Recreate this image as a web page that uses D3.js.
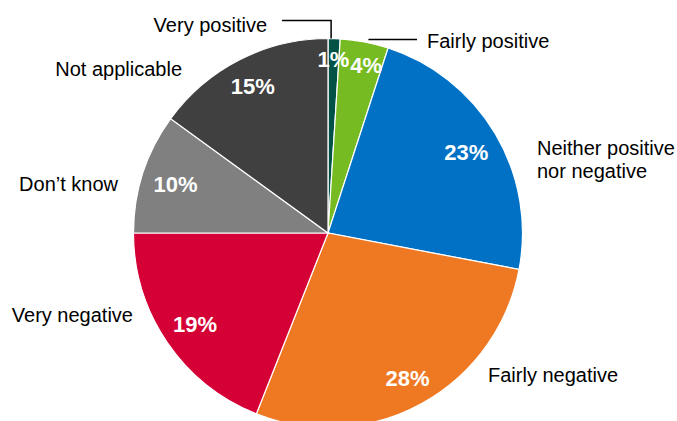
<!DOCTYPE html>
<html>
<head>
<meta charset="utf-8">
<script src="https://cdn.jsdelivr.net/npm/d3@7"></script>
<style>
  body { margin: 0; background: #fff; }
  svg { display: block; font-family: "Liberation Sans", Arial, sans-serif; }
</style>
</head>
<body>
<svg></svg>
<script>
// ---- data ----
const categories = ['Very positive', 'Fairly positive', 'Neither positive nor negative',
  'Fairly negative', 'Very negative', "Don\u2019t know", 'Not applicable'];
const shares = [1, 4, 23, 28, 19, 10, 15];
const colours = ['#005246', '#77bb22', '#0071c5', '#ef7822', '#d50036', '#808080', '#404040'];

// label text lines (the long one wraps)
const labelLines = [['Very positive'], ['Fairly positive'], ['Neither positive', 'nor negative'],
  ['Fairly negative'], ['Very negative'], ["Don\u2019t know"], ['Not applicable']];

// where Excel put the category labels (anchor x, first baseline y)
const labelSpots = [
  {x: 267, y: 32, anchor: 'end', leader: 'elbow'},
  {x: 427, y: 48, anchor: 'start', leader: 'flat'},
  {x: 537, y: 155, anchor: 'start'},
  {x: 488, y: 382, anchor: 'start'},
  {x: 133, y: 322, anchor: 'end'},
  {x: 118, y: 191, anchor: 'end'},
  {x: 182, y: 76, anchor: 'end'}
];

const size = {w: 677, h: 421};
const centre = {x: 328, y: 233};
const radius = 194.5;
const pctRadius = 184;   // outer corner of % labels touches this circle

const svg = d3.select('svg')
  .attr('width', size.w)
  .attr('height', size.h);

const rows = categories.map((c, i) => ({name: c, value: shares[i], colour: colours[i], i: i}));

const pie = d3.pie().value(d => d.value).sort(null);
const arc = d3.arc().innerRadius(0).outerRadius(radius);
const arcs = pie(rows);

const g = svg.append('g').attr('transform', `translate(${centre.x},${centre.y})`);

// slices
g.selectAll('path')
  .data(arcs)
  .join('path')
  .attr('d', arc)
  .attr('fill', d => d.data.colour)
  .attr('stroke', '#fff')
  .attr('stroke-width', 1.2);

// percentage labels, pushed out until the box corner meets pctRadius
const pctG = g.append('g');
const pctFont = 22;
let prevRight = -Infinity;
arcs.forEach(d => {
  const t = pctG.append('text')
    .attr('text-anchor', 'middle')
    .attr('font-size', pctFont)
    .attr('font-weight', 'bold')
    .attr('fill', '#fff')
    .text(d.data.value + '%');
  const w = t.node().getComputedTextLength();
  const h = pctFont * 0.78;
  const mid = (d.startAngle + d.endAngle) / 2;
  const ux = Math.sin(mid), uy = -Math.cos(mid);
  let lo = 0, hi = radius;
  for (let k = 0; k < 30; k++) {
    const m = (lo + hi) / 2;
    const cx = ux * m, cy = uy * m;
    const far = d3.max([[-1, -1], [1, -1], [-1, 1], [1, 1]],
      s => Math.hypot(cx + s[0] * w / 2, cy + s[1] * h / 2));
    if (far > pctRadius) hi = m; else lo = m;
  }
  let x = ux * lo, y = uy * lo;
  // keep the tiny top slices from sitting on each other
  if (d.index < 2 && x - w / 2 < prevRight + 1) x = prevRight + 1 + w / 2;
  if (d.index < 2) prevRight = x + w / 2;
  t.attr('x', x).attr('y', y + h / 2);
});

// category labels
const lblFont = 20;
labelSpots.forEach((p, i) => {
  const t = svg.append('text')
    .attr('x', p.x)
    .attr('y', p.y)
    .attr('text-anchor', p.anchor)
    .attr('font-size', lblFont)
    .attr('fill', '#000');
  labelLines[i].forEach((line, j) => {
    t.append('tspan').attr('x', p.x).attr('dy', j === 0 ? 0 : 23).text(line);
  });
});

// leader lines for the two thin slices
const leaderG = svg.append('g')
  .attr('fill', 'none')
  .attr('stroke', '#000')
  .attr('stroke-width', 1.5);

arcs.forEach((d, i) => {
  const p = labelSpots[i];
  if (!p.leader) return;
  const mid = (d.startAngle + d.endAngle) / 2;
  const ex = centre.x + Math.sin(mid) * radius;
  const ey = centre.y - Math.cos(mid) * radius;
  const ly = p.y - lblFont * 0.37;
  let pts;
  if (p.leader === 'elbow') {
    pts = [[p.x + 15, ly - 4], [ex - 3, ly - 4], [ex - 3, ey]];
  } else {
    pts = [[ex + 4, ly - 1], [p.x - 10, ly - 1]];
  }
  leaderG.append('path').attr('d', d3.line()(pts));
});
</script>
</body>
</html>
